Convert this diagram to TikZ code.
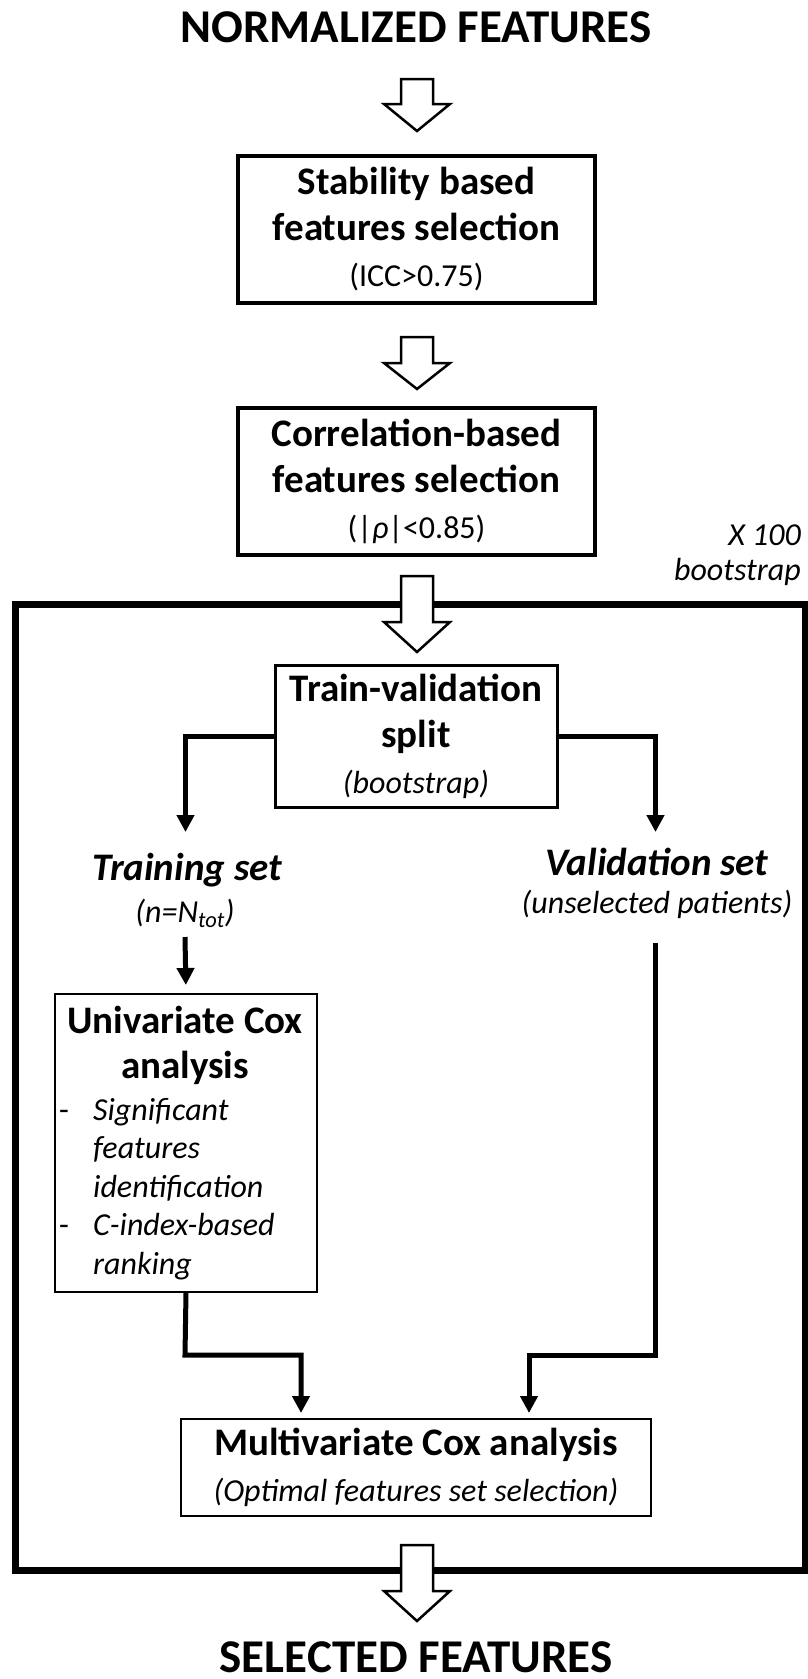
\documentclass[tikz,border=0pt]{standalone}
\usepackage{fontspec}
\setmainfont{Carlito}
\usetikzlibrary{arrows.meta,calc}

% font sizes (1pt = 1 unit of the drawing grid)
\newcommand\ttlfont{\fontsize{47}{50}\selectfont\bfseries}
\newcommand\bodybf{\fontsize{39}{46}\selectfont\bfseries}
\newcommand\bodybfit{\fontsize{39}{46}\selectfont\bfseries\itshape}
\newcommand\subup{\fontsize{32}{40}\selectfont\mdseries\upshape}
\newcommand\subit{\fontsize{32}{40}\selectfont\mdseries\itshape}

% hollow block arrow: centre x, top y, head start y, tip y
\newcommand\hollowarrow[4]{%
  \draw[line width=2.5pt, fill=white, line join=miter]
    (#1-16,#2) -- (#1+16,#2) -- (#1+16,#3) -- (#1+33,#3) -- (#1,#4)
    -- (#1-33,#3) -- (#1-16,#3) -- cycle;}

\tikzset{
  stagebox/.style={draw, line width=3.5pt, minimum width=357pt, minimum height=147pt,
    align=center, inner sep=0pt, font=\bodybf},
  thinbox/.style={draw, line width=2pt, inner sep=0pt},
  label/.style={anchor=base, inner sep=0pt},
  conn/.style={line width=5pt, line join=miter, -{Triangle[width=17pt,length=17pt]}},
}

\begin{document}
\begin{tikzpicture}[x=1pt, y=-1pt]
\useasboundingbox (0,0) rectangle (807,1679);

% heading
\node[label, font=\ttlfont] (input) at (416,42) {NORMALIZED FEATURES};
\hollowarrow{417}{79}{104}{131}

% filtering stages
\node[stagebox] (stab) at (416.5,229.5)
  {Stability based\\features selection\\{\subup (ICC>0.75)}};
\hollowarrow{417}{337}{363}{389}
\node[stagebox] (corr) at (416.5,481.5)
  {Correlation-based\\features selection\\{\subup (|\textit{ρ}|<0.85)}};

% bootstrap loop frame
\node[draw, line width=7pt, minimum width=789.5pt, minimum height=966pt, inner sep=0pt]
  (loop) at (410.25,1087.5) {};
\node[label, anchor=base east, font=\subit] (reps) at (801,545) {X 100};
\node[label, anchor=base east, font=\subit] (repsb) at (801,580) {bootstrap};
\hollowarrow{417}{576}{622}{652}

% split
\node[draw, line width=3pt, minimum width=282pt, minimum height=142pt, align=center,
  inner sep=0pt, font=\bodybf] (split) at (416,736)
  {Train-validation\\split\\{\subit (bootstrap)}};

\node[label, font=\bodybfit] (trainlbl) at (187,880) {Training set};
\node[label, font=\subit] (trainn) at (185,922) {(n=N\textsubscript{tot})};
\node[label, font=\bodybfit] (vallbl) at (657,875) {Validation set};
\node[label, font=\subit] (valp) at (657,913) {(unselected patients)};

\coordinate (tipL) at (185.5,832);
\coordinate (tipR) at (655.5,832);
\draw[conn] (split.west) -| (tipL);
\draw[conn] (split.east) -| (tipR);

% univariate analysis on the training set
\node[thinbox, minimum width=262pt, minimum height=298pt, anchor=north west]
  (uni) at (54,993) {};
\node[label, font=\bodybf] (unia) at (185,1033) {Univariate Cox};
\node[label, font=\bodybf] (unib) at (185,1078) {analysis};
\node[label, anchor=base west, font=\subup] (dash1) at (59,1120) {-};
\node[label, anchor=base west, font=\subup] (dash2) at (59,1235.5) {-};
\foreach \txt/\yy [count=\i] in {Significant/1120, features/1158.5,
    identification/1197, C-index-based/1235.5, ranking/1274}
  \node[label, anchor=base west, font=\subit] (item\i) at (93,\yy) {\txt};

\coordinate (trainout) at (185,937);
\draw[conn, shorten >=8pt] (trainout) -- (uni.north);

% multivariate analysis
\node[thinbox, minimum width=470pt, minimum height=97pt, align=center, font=\bodybf]
  (multi) at (416,1467.5)
  {Multivariate Cox analysis\\{\subit (Optimal features set selection)}};

\coordinate (elbowL) at (185,1355);
\coordinate (mL) at (301,1413);
\draw[conn] (uni.south) -- (elbowL) -| (mL);

\coordinate (valout) at (655.5,943);
\coordinate (elbowR) at (655.5,1355);
\coordinate (mR) at (529,1413);
\draw[conn] (valout) -- (elbowR) -| (mR);

% output
\hollowarrow{417}{1545}{1591}{1621}
\node[label, font=\ttlfont] (output) at (416,1672) {SELECTED FEATURES};
\end{tikzpicture}
\end{document}
